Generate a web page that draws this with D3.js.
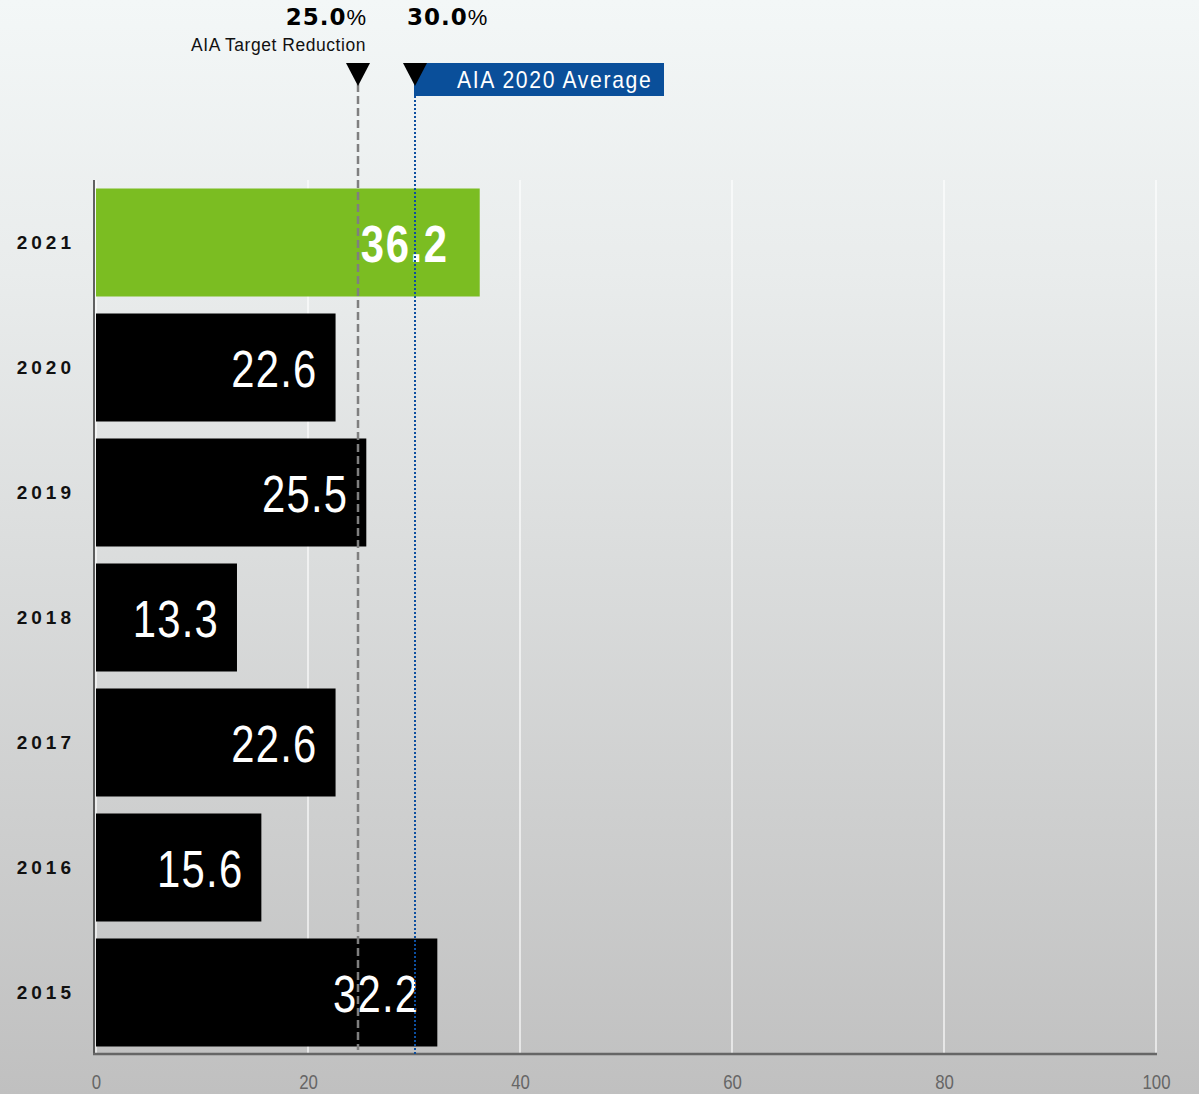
<!DOCTYPE html>
<html><head><meta charset="utf-8">
<script src="https://cdn.jsdelivr.net/npm/d3@7"></script>
<style>html,body{margin:0;padding:0;}svg{display:block;}</style>
</head><body>
<script>
const years = ["2021","2020","2019","2018","2017","2016","2015"];
const values = [36.2,22.6,25.5,13.3,22.6,15.6,32.2];
const xTicks = [0,20,40,60,80,100];
const targetValue = 25.0, targetLabel = "AIA Target Reduction";
const avgValue = 30.0, avgLabel = "AIA 2020 Average";

const W=1199,H=1094;
const svg=d3.select("body").append("svg").attr("width",W).attr("height",H);
const defs=svg.append("defs");
const g=defs.append("linearGradient").attr("id","bg").attr("x1",0).attr("y1",0).attr("x2",0).attr("y2",1);
g.append("stop").attr("offset","0").attr("stop-color","#f3f7f7");
g.append("stop").attr("offset","0.25").attr("stop-color","#e9ecec");
g.append("stop").attr("offset","1").attr("stop-color","#c0c0c0");
svg.append("rect").attr("width",W).attr("height",H).attr("fill","url(#bg)");

const sans='"Liberation Sans", Arial, sans-serif';
const x=d3.scaleLinear().domain([0,100]).range([96,1156]);
const y=d3.scaleBand().domain(years).range([180,1055]).paddingInner(0.136).paddingOuter(0.068);

// gridlines
svg.append("g").selectAll("line").data(xTicks).join("line")
 .attr("x1",d=>x(d)).attr("x2",d=>x(d)).attr("y1",180).attr("y2",1054)
 .attr("stroke","#ffffff").attr("stroke-width",1.2);

svg.append("line").attr("x1",94).attr("x2",94).attr("y1",180).attr("y2",1054).attr("stroke","#333").attr("stroke-width",1.5);

// bars
svg.append("g").selectAll("rect").data(years).join("rect")
 .attr("x",x(0)).attr("y",d=>y(d)).attr("width",(d,i)=>x(values[i])-x(0)).attr("height",y.bandwidth())
 .attr("fill",(d,i)=>i===0?"#7bbd22":"#000000");

svg.append("line").attr("x1",93).attr("x2",1157).attr("y1",1054).attr("y2",1054).attr("stroke","#666").attr("stroke-width",2.5);

// x tick labels (narrowed)
const xa=d3.axisBottom(x).tickValues(xTicks).tickSize(0).tickPadding(0);
const xg=svg.append("g").attr("transform","translate(0,1089)").call(xa);
xg.select(".domain").remove();
xg.selectAll("text").attr("font-family",sans).attr("font-size",21).attr("fill","#666")
 .attr("dy",0).attr("y",0).attr("transform","scale(0.8,1)");

// y labels
const ya=d3.axisLeft(y).tickSize(0).tickPadding(0);
const yg=svg.append("g").attr("transform","translate(75,0)").call(ya);
yg.select(".domain").remove();
yg.selectAll("text").attr("font-family",sans).attr("font-weight","bold")
 .attr("font-size",19).attr("letter-spacing","4px").attr("fill","#111").attr("dy","0.35em").attr("x",0);

// value labels (narrowed)
svg.append("g").selectAll("text").data(years).join("text")
 .attr("transform",(d,i)=>`translate(${x(values[i])-(i===0?31:18)},${y(d)+y.bandwidth()/2+19}) scale(0.82,1)`)
 .attr("text-anchor","end").attr("font-family",sans)
 .attr("font-size",51).attr("font-weight",(d,i)=>i===0?"bold":"normal")
 .attr("letter-spacing",(d,i)=>i===0?"2px":"1.5px")
 .attr("fill","#fff").text((d,i)=>values[i].toFixed(1));

// reference lines
const tx=x(targetValue)-3, ax=x(avgValue)+1;
svg.append("line").attr("x1",tx).attr("x2",tx).attr("y1",84).attr("y2",1050)
 .attr("stroke","#7f7f7f").attr("stroke-width",2.5).attr("stroke-dasharray","8,4");
svg.append("line").attr("x1",ax).attr("x2",ax).attr("y1",96).attr("y2",1056)
 .attr("stroke","#0d4fa0").attr("stroke-width",2).attr("stroke-dasharray","2,2");

// avg label box
svg.append("rect").attr("x",x(avgValue)).attr("y",63).attr("width",250).attr("height",33).attr("fill","#0a4f9a");
svg.append("text").attr("transform",`translate(${x(avgValue)+43},88) scale(0.92,1)`).attr("font-family",sans)
 .attr("font-size",23).attr("letter-spacing","1.8px").attr("fill","#fff").text(avgLabel);

// triangles
function tri(cx){
 svg.append("path").attr("d",`M${cx-12},63 L${cx+12},63 L${cx},86 Z`).attr("fill","#000");
}
tri(tx); tri(ax);

// top labels
const t1=svg.append("text").attr("x",366).attr("y",25).attr("text-anchor","end").attr("fill","#000");
t1.append("tspan").attr("font-family","DejaVu Sans, sans-serif").attr("font-weight",900).attr("font-size",23).attr("letter-spacing","1px").text(targetValue.toFixed(1));
t1.append("tspan").attr("font-family",sans).attr("font-size",22).text("%");
svg.append("text").attr("transform","translate(366,51) scale(0.92,1)").attr("text-anchor","end").attr("font-family",sans)
 .attr("font-size",19).attr("letter-spacing","0.6px").attr("fill","#111").text(targetLabel);
const t2=svg.append("text").attr("x",407).attr("y",25).attr("fill","#000");
t2.append("tspan").attr("font-family","DejaVu Sans, sans-serif").attr("font-weight",900).attr("font-size",23).attr("letter-spacing","1px").text(avgValue.toFixed(1));
t2.append("tspan").attr("font-family",sans).attr("font-size",22).text("%");
</script>
</body></html>
